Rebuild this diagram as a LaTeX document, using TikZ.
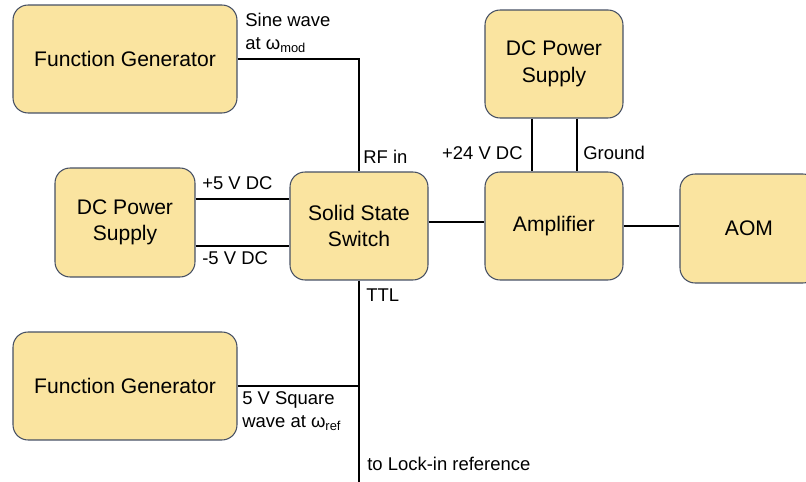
\documentclass[tikz,border=0pt]{standalone}
\usepackage{fontspec}
\setmainfont{Liberation Sans}
\usetikzlibrary{calc}
\definecolor{boxfill}{RGB}{250,228,160}
\definecolor{boxline}{RGB}{70,80,100}

\begin{document}
\begin{tikzpicture}[x=0.02cm,y=-0.02cm,
        block/.style={draw=boxline, fill=boxfill, line width=0.6pt, rounded corners=0.3cm,
            minimum width=2.76cm, minimum height=2.16cm, align=center,
            font=\fontsize{12}{15}\selectfont},
        wideblock/.style={block, minimum width=4.48cm},
        wire/.style={line width=1.6pt},
        lbl/.style={inner sep=0pt, align=left, font=\fontsize{10.5}{13}\selectfont}]
            \useasboundingbox (0,0) rectangle (806,482);
            % Blocks
            \node[wideblock] (fgmod) at (125,59) {Function Generator};
            \node[block, minimum width=2.8cm, minimum height=2.18cm] (dcleft) at (125,222.5) {DC Power\\Supply};
            \node[block] (switch) at (359,226) {Solid State\\Switch};
            \node[block] (dctop) at (554,64) {DC Power\\Supply};
            \node[block] (amp) at (554,226) {Amplifier};
            \node[block, minimum height=2.18cm] (aom) at (749,228.5) {AOM};
            \node[wideblock] (fgref) at (125,386) {Function Generator};

            % Wires
            \draw[wire] (fgmod.east) -| (switch.north);
            \draw[wire] ($(dcleft.east)+(0,-23.5)$) coordinate (pplus) -- (pplus -| switch.west);
            \draw[wire] ($(dcleft.east)+(0,23.5)$) coordinate (pminus) -- (pminus -| switch.west);
            \draw[wire] ($(switch.east)+(0,-4)$) coordinate (sout) -- (sout -| amp.west);
            \draw[wire] ($(dctop.south)+(-22,0)$) -- ($(amp.north)+(-22,0)$);
            \draw[wire] ($(dctop.south)+(23,0)$) -- ($(amp.north)+(23,0)$);
            \draw[wire] (amp.east) -- (amp.east -| aom.west);
            \coordinate (lockin) at (switch.south |- 0,482);
            \draw[wire] (switch.south) -- (lockin);
            \draw[wire] (fgref.east) -- (fgref.east -| switch.south);

            % Labels
            \node[lbl, anchor=west] (sinelbl) at (245,33) {Sine wave\\at ω\textsubscript{mod}};
            \node[lbl, anchor=west] (rflbl) at (363,157) {RF in};
            \node[lbl, anchor=west] (pluslbl) at (202,183) {+5 V DC};
            \node[lbl, anchor=west] (minuslbl) at (202,258) {-5 V DC};
            \node[lbl, anchor=west] (ttllbl) at (366,295) {TTL};
            \node[lbl, anchor=east] (vlbl) at (523,153) {+24 V DC};
            \node[lbl, anchor=west] (gndlbl) at (583,153) {Ground};
            \node[lbl, anchor=west] (sqlbl) at (242,411) {5 V Square\\wave at ω\textsubscript{ref}};
            \node[lbl, anchor=west] (locklbl) at (367,464) {to Lock-in reference};

        \end{tikzpicture}
\end{document}
